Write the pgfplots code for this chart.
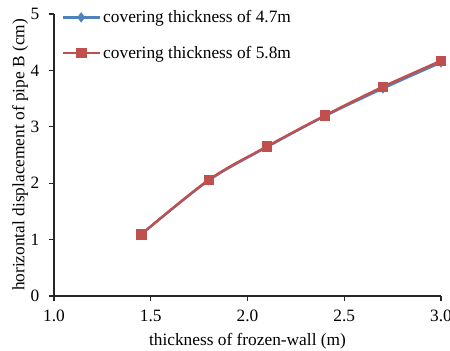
\documentclass[border=0pt]{standalone}
\usepackage{pgfplots}
\pgfplotsset{compat=1.18}
\usepackage{fontspec}
\setmainfont{Liberation Serif}
\definecolor{xlblue}{HTML}{4F81BD}
\definecolor{xlred}{HTML}{C0504D}
\begin{document}
\begin{tikzpicture}
\begin{axis}[
  name=ax,
  scale only axis,
  width=290.25pt, height=211.5pt,
  xmin=1, xmax=3, ymin=0, ymax=5,
  xtick={1,1.5,2,2.5,3},
  ytick={0,1,2,3,4,5},
  xticklabel style={/pgf/number format/fixed,/pgf/number format/fixed zerofill,/pgf/number format/precision=1, yshift=-3pt},
  yticklabel style={xshift=-3.5pt},
  /pgf/number format/assume math mode=true,
  axis lines*=left,
  axis line style={black!85, line width=0.8pt},
  tick style={black!85, line width=0.8pt},
  tick align=outside,
  major tick length=4pt,
  xlabel={thickness of frozen-wall (m)},
  ylabel={horizontal displacement of pipe B (cm)},
  xlabel style={yshift=-2pt},
  ylabel style={yshift=-5pt},
  label style={font=\fontsize{13}{15}\selectfont},
  tick label style={font=\fontsize{13}{15}\selectfont},
  legend style={draw=none, fill=none, at={(0.009,1.033)}, anchor=north west, font=\fontsize{13}{15}\selectfont, row sep=12pt, column sep=0pt, nodes={inner xsep=2pt}},
  legend cell align=left,
  legend image code/.code={\draw[mark repeat=2,mark phase=2,#1] plot coordinates {(0cm,0cm) (0.48cm,0cm) (0.96cm,0cm)};},
]
\addplot[xlblue, line width=1.8pt, smooth, tension=0.5, mark=diamond*, mark size=3.5pt, mark options={fill=xlblue, line width=0.5pt}] coordinates {
(1.45,1.09) (1.8,2.05) (2.1,2.64) (2.4,3.19) (2.7,3.68) (3.0,4.14)};
\addlegendentry{covering thickness of 4.7m}
\addplot[xlred, line width=1.8pt, smooth, tension=0.5, mark=square*, mark size=3.6pt, mark options={fill=xlred, line width=0.5pt}] coordinates {
(1.45,1.09) (1.8,2.06) (2.1,2.65) (2.4,3.20) (2.7,3.71) (3.0,4.17)};
\addlegendentry{covering thickness of 5.8m}
\end{axis}
\pgfresetboundingbox
\useasboundingbox ([xshift=-40.5pt,yshift=-41.25pt]ax.south west) rectangle ([xshift=6.75pt,yshift=10.5pt]ax.north east);
\end{tikzpicture}
\end{document}
